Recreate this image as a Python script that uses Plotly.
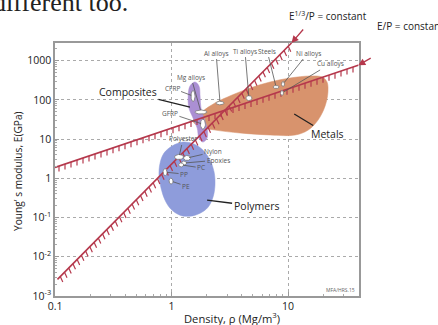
import numpy as np
import plotly.graph_objects as go

# ---------------- data ----------------
# Individual materials: density rho (Mg/m^3) and Young's modulus E (GPa)
material_names = ["Mg alloys", "CFRP", "GFRP", "Al alloys", "Ti alloys", "Steels",
                  "Ni alloys", "Cu alloys", "Polyester", "Nylon", "Epoxies", "PC", "PP", "PE"]
material_density = [1.79, 1.53, 1.86, 2.61, 4.62, 7.9, 9.06, 8.88, 1.16, 1.36, 1.28, 1.21, 0.88, 0.99]
material_modulus = [49, 125, 24, 83, 111, 213, 254, 150, 3.5, 3.3, 2.45, 2.2, 1.44, 0.85]

# Envelopes of the material classes
metals_density = [1.53, 1.86, 2.36, 3.31, 4.72, 7.01, 10.4, 15.4, 19.6, 21.6, 22.0, 20.8,
                  18.1, 14.9, 11.5, 7.01, 3.87, 2.36, 1.76]
metals_modulus = [28.8, 51.9, 83.2, 133, 201, 286, 361, 406, 383, 286, 159, 69.7,
                  30.6, 17.0, 12.7, 12.7, 14.3, 17.0, 20.3]
composites_density = [1.44, 1.59, 1.72, 1.76, 1.79, 1.90, 2.02, 2.02, 1.86, 1.72, 1.66, 1.53, 1.41, 1.39]
composites_modulus = [226, 286, 226, 118, 62, 34.5, 19.1, 10.6, 8.39, 10.6, 19.1, 34.5, 62, 125]
polymers_density = [1.255, 1.01, 0.862, 0.797, 0.781, 0.813, 0.880, 0.990, 1.18, 1.44,
                    1.76, 2.06, 2.27, 2.36, 2.32, 2.14, 1.86, 1.56]
polymers_modulus = [8.39, 6.64, 4.40, 2.44, 1.21, 0.562, 0.277, 0.163, 0.115, 0.108,
                    0.129, 0.184, 0.331, 0.670, 1.44, 2.91, 5.25, 7.46]

# Class label anchors (rho, E)
class_names = ["Composites", "Metals", "Polymers"]
class_anchor_density = [1.44, 11.3, 2.02]
class_anchor_modulus = [65.6, 43.5, 0.277]

# Design guide lines: E/rho = const and E^(1/3)/rho = const
EP_CONSTANT = 19.0
E13P_CONSTANT = 1.32
EP_DENSITY_SPAN = [0.1, 40.0]
E13P_DENSITY_START = 0.105

# Axis ticks
x_tick_vals = [0.1, 1, 10]
x_tick_text = ["0.1", "1", "10"]
y_tick_vals = [1e-3, 1e-2, 1e-1, 1, 10, 100, 1000]
y_tick_text = ["10<sup>-3</sup>", "10<sup>-2</sup>", "10<sup>-1</sup>", "1", "10", "100", "1000"]

# ---------------- layout geometry & styles ----------------
FIG_W, FIG_H = 438, 325
PLOT_L, PLOT_R, PLOT_T, PLOT_B = 55, 359, 43, 296
XR = [-1.0, 1.609]
YR = [-3.0, 3.45]
KX = (PLOT_R - PLOT_L) / (XR[1] - XR[0])   # px per decade (x)
KY = (PLOT_B - PLOT_T) / (YR[1] - YR[0])   # px per decade (y)

FONT = "Open Sans"
GUIDE_COLOR = "#b5384c"
METALS_COLOR = "#d8936d"
COMPOSITES_COLOR = "#ab8fd3"
POLYMERS_COLOR = "#8e9cdb"

# bubble sizes (px) and label offsets (px) for each material
bubble_size = {"Mg alloys": (12, 4), "CFRP": (4, 11), "GFRP": (5, 10), "Al alloys": (8, 3.5),
               "Ti alloys": (6, 5), "Steels": (6, 3), "Ni alloys": (3, 5), "Cu alloys": (3, 5),
               "Polyester": (9, 5), "Nylon": (7, 5), "Epoxies": (5, 4), "PC": (5, 4),
               "PP": (4, 7), "PE": (4, 6)}
label_offset = {"Mg alloys": (-10, -35), "CFRP": (-21, -8), "GFRP": (-33, -11),
                "Al alloys": (-4, -50), "Ti alloys": (-4, -47), "Steels": (-9, -36),
                "Ni alloys": (25, -31), "Cu alloys": (48, -29), "Polyester": (4, -18),
                "Nylon": (26, -6), "Epoxies": (34, -3), "PC": (20, 3), "PP": (19, 2),
                "PE": (15, 5)}
class_offset = {"Composites": (-62, -15), "Metals": (33, 20), "Polymers": (49, 6)}


def paper_x(px):
    return (px - PLOT_L) / (PLOT_R - PLOT_L)


def paper_y(py):
    return (PLOT_B - py) / (PLOT_B - PLOT_T)


def ellipse(rho, e, w, h, n=40):
    t = np.linspace(0, 2 * np.pi, n)
    lx = np.log10(rho) + (w / 2) * np.cos(t) / KX
    ly = np.log10(e) + (h / 2) * np.sin(t) / KY
    return 10 ** lx, 10 ** ly


def hatches(lx, ly, dx_px, dy_px):
    xs, ys = [], []
    for a, b in zip(lx, ly):
        xs += [10 ** a, 10 ** (a + dx_px / KX), None]
        ys += [10 ** b, 10 ** (b - dy_px / KY), None]
    return xs, ys


fig = go.Figure()

# ---- class envelopes ----
for dens, mod, col in [(metals_density, metals_modulus, METALS_COLOR),
                       (composites_density, composites_modulus, COMPOSITES_COLOR),
                       (polymers_density, polymers_modulus, POLYMERS_COLOR)]:
    fig.add_trace(go.Scatter(x=dens + dens[:1], y=mod + mod[:1], mode="lines",
                             fill="toself", fillcolor=col,
                             line=dict(color=col, width=0.5, shape="spline", smoothing=1.0),
                             hoverinfo="skip", showlegend=False))

# ---- E/rho = const guide with hatching ----
ep_lx = np.log10(EP_DENSITY_SPAN)
fig.add_trace(go.Scatter(x=EP_DENSITY_SPAN, y=[EP_CONSTANT * r for r in EP_DENSITY_SPAN],
                         mode="lines", line=dict(color=GUIDE_COLOR, width=1.6),
                         hoverinfo="skip", showlegend=False))
h_lx = np.arange(ep_lx[0] + 4 / KX, ep_lx[1], 6 / KX)
hx, hy = hatches(h_lx, np.log10(EP_CONSTANT) + h_lx, 0, 5.5)
fig.add_trace(go.Scatter(x=hx, y=hy, mode="lines", line=dict(color=GUIDE_COLOR, width=1.2),
                         hoverinfo="skip", showlegend=False))

# ---- E^(1/3)/rho = const guide with hatching ----
c3 = 3 * np.log10(E13P_CONSTANT)
s_lx0 = np.log10(E13P_DENSITY_START)
s_lx1 = (YR[1] - c3) / 3
fig.add_trace(go.Scatter(x=[10 ** s_lx0, 10 ** s_lx1],
                         y=[10 ** (c3 + 3 * s_lx0), 10 ** (c3 + 3 * s_lx1)],
                         mode="lines", line=dict(color=GUIDE_COLOR, width=1.6),
                         hoverinfo="skip", showlegend=False))
seg_len = np.hypot(KX, 3 * KY)
s_h = np.arange(s_lx0 + 4 / seg_len, s_lx1, 6 / seg_len)
hx, hy = hatches(s_h, c3 + 3 * s_h, 2.5, 5.5)
fig.add_trace(go.Scatter(x=hx, y=hy, mode="lines", line=dict(color=GUIDE_COLOR, width=1.2),
                         hoverinfo="skip", showlegend=False))

# ---- material bubbles ----
for name, r, e in zip(material_names, material_density, material_modulus):
    w, h = bubble_size[name]
    ex, ey = ellipse(r, e, w, h)
    fig.add_trace(go.Scatter(x=ex, y=ey, mode="lines", fill="toself", fillcolor="white",
                             line=dict(color="#7a7a7a", width=0.8),
                             hoverinfo="skip", showlegend=False))

annotations = []
for name, r, e in zip(material_names, material_density, material_modulus):
    ax, ay = label_offset[name]
    annotations.append(dict(x=np.log10(r), y=np.log10(e), xref="x", yref="y",
                            text=name, showarrow=True, arrowhead=0, arrowwidth=0.8,
                            arrowcolor="#555", ax=ax, ay=ay, standoff=2,
                            font=dict(family=FONT, size=6.5, color="#555")))

for name, r, e in zip(class_names, class_anchor_density, class_anchor_modulus):
    ax, ay = class_offset[name]
    annotations.append(dict(x=np.log10(r), y=np.log10(e), xref="x", yref="y",
                            text=name, showarrow=True, arrowhead=0, arrowwidth=1.3,
                            arrowcolor="#222", ax=ax, ay=ay, standoff=0,
                            font=dict(family=FONT, size=10.5, color="#222")))


def paper_text(px, py, text, size, xanchor="center", yanchor="middle", **kw):
    return dict(xref="paper", yref="paper", x=paper_x(px), y=paper_y(py),
                xanchor=xanchor, yanchor=yanchor, text=text, showarrow=False,
                font=dict(family=kw.pop("family", FONT), size=size,
                          color=kw.pop("color", "#222")), **kw)


# guide-line captions and pointers
top_rho = 10 ** s_lx1
annotations += [
    paper_text(328, 16, "E<sup>1/3</sup>/P = constant", 10),
    dict(x=np.log10(top_rho), y=YR[1], xref="x", yref="y", text="", showarrow=True,
         arrowhead=2, arrowsize=1.1, arrowwidth=1.3, arrowcolor=GUIDE_COLOR, ax=13, ay=-15),
    paper_text(375, 26, "E/P = constant", 10, xanchor="left"),
    dict(x=np.log10(EP_DENSITY_SPAN[1]), y=np.log10(EP_CONSTANT * EP_DENSITY_SPAN[1]),
         xref="x", yref="y", text="", showarrow=True, arrowhead=2, arrowsize=1.1,
         arrowwidth=1.3, arrowcolor=GUIDE_COLOR, ax=14, ay=-8),
    # axis titles
    paper_text(232, 318, "Density, \u03c1 (Mg/m<sup>3</sup>)", 11.2),
    paper_text(18, 171, "Young\u2019 s modulus, E(GPa)", 10.2, textangle=-90),
    # source tag
    paper_text(340, 290, "MFA/HRS.15", 5, color="#666"),
    # heading text running above the chart
    paper_text(-9, 19, "different too.", 26, xanchor="left", yanchor="bottom",
               family="Liberation Serif"),
]

axis_common = dict(type="log", showgrid=True, gridcolor="#aaaaaa", griddash="dot", gridwidth=1,
                   showline=True, linecolor="#999999", linewidth=1.5, mirror=True,
                   ticks="inside", ticklen=4, tickcolor="#999999",
                   tickfont=dict(family=FONT, size=10.5, color="#222"), zeroline=False,
                   minor=dict(ticks="inside", ticklen=2.5, tickcolor="#aaaaaa",
                              dtick="D1", showgrid=False))

fig.update_layout(
    width=FIG_W, height=FIG_H,
    margin=dict(l=PLOT_L, r=FIG_W - PLOT_R, t=PLOT_T, b=FIG_H - PLOT_B),
    paper_bgcolor="white", plot_bgcolor="white",
    xaxis=dict(axis_common, range=XR, tickvals=x_tick_vals, ticktext=x_tick_text),
    yaxis=dict(axis_common, range=YR, tickvals=y_tick_vals, ticktext=y_tick_text),
    annotations=annotations,
    showlegend=False,
)

fig.write_html("out.html")
